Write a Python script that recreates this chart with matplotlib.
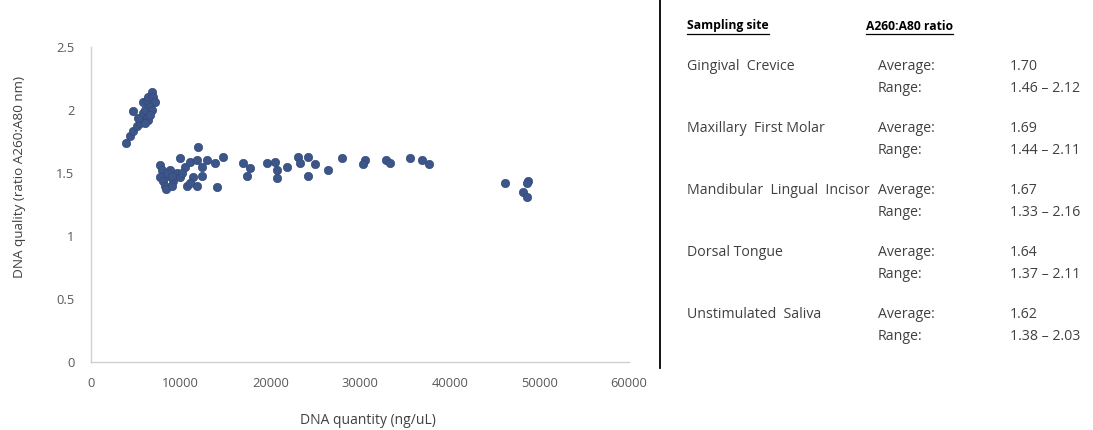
import matplotlib
matplotlib.use("Agg")
import matplotlib.pyplot as plt
from matplotlib.lines import Line2D

# DNA quantity (ng/uL) and quality (A260:A280)
quantity = [3900, 4350, 4680, 4680, 5130, 5460, 5690, 5800, 6020, 5800,
            6240, 6360, 6800, 6910, 7140, 6580, 6240, 6800, 6360, 5990,
            5240, 6580,
            7690, 7920, 7690, 8030, 8250, 8360, 8590, 8810, 9140, 9590,
            9930, 9930, 10480, 10710, 11040, 11380, 11820, 11930, 11820, 12380,
            12380, 12940, 13830, 14050, 14720, 8500, 9000, 10100, 11000, 9000,
            16950, 17400, 17730, 19630, 20520, 20740, 20740, 21860, 23080, 23310,
            24200, 24980, 24200, 26430, 27990, 30560, 30330, 32900, 33340, 35580,
            36910, 37690, 46170, 48730, 48620, 48180, 48620]
quality = [1.74, 1.79, 1.83, 1.99, 1.87, 1.90, 1.94, 1.98, 2.00, 2.06,
           2.08, 2.10, 2.14, 2.10, 2.06, 2.02, 1.94, 2.00, 1.92, 1.90,
           1.94, 1.96,
           1.56, 1.52, 1.47, 1.44, 1.40, 1.37, 1.48, 1.52, 1.44, 1.50,
           1.62, 1.47, 1.55, 1.40, 1.59, 1.47, 1.40, 1.71, 1.60, 1.55,
           1.48, 1.60, 1.58, 1.39, 1.63, 1.50, 1.48, 1.50, 1.42, 1.40,
           1.58, 1.48, 1.54, 1.58, 1.59, 1.52, 1.46, 1.55, 1.63, 1.58,
           1.63, 1.57, 1.48, 1.52, 1.62, 1.60, 1.57, 1.60, 1.58, 1.62,
           1.60, 1.57, 1.42, 1.44, 1.42, 1.35, 1.31]

x_ticks = [0, 10000, 20000, 30000, 40000, 50000, 60000]
y_ticks = [0, 0.5, 1, 1.5, 2, 2.5]

sites = ["Gingival  Crevice", "Maxillary  First Molar", "Mandibular  Lingual  Incisor",
         "Dorsal Tongue", "Unstimulated  Saliva"]
averages = ["1.70", "1.69", "1.67", "1.64", "1.62"]
ranges = ["1.46 \u2013 2.12", "1.44 \u2013 2.11", "1.33 \u2013 2.16",
          "1.37 \u2013 2.11", "1.38 \u2013 2.03"]

plt.rcParams['font.family'] = ['Open Sans', 'DejaVu Sans']

W, H = 1093, 430
fig = plt.figure(figsize=(W / 100, H / 100), dpi=100)
ax = fig.add_axes([91 / W, 1 - 362 / H, (629 - 91) / W, (362 - 47) / H])

ax.scatter(quantity, quality, s=36, color='#3d5689', edgecolors='#34497a',
           linewidths=0.5, zorder=3)

ax.set_xlim(0, 60000)
ax.set_ylim(0, 2.5)
ax.set_xticks(x_ticks)
ax.set_yticks(y_ticks)
ax.set_yticklabels(["0", "0.5", "1", "1.5", "2", "2.5"])
ax.tick_params(length=0, labelsize=9.3, colors='#595959')
ax.tick_params(axis='y', pad=12)
ax.tick_params(axis='x', pad=11)
for s in ['top', 'right']:
    ax.spines[s].set_visible(False)
for s in ['left', 'bottom']:
    ax.spines[s].set_color('#d0d0d0')
    ax.spines[s].set_linewidth(1.0)

fig.text(368 / W, 1 - 420 / H, "DNA quantity (ng/uL)", ha='center', va='center',
         fontsize=10, color='#404040')
fig.text(20 / W, 1 - 177 / H, "DNA quality (ratio A260:A80 nm)", ha='center',
         va='center', rotation=90, fontsize=9.7, color='#404040')

# vertical divider
fig.add_artist(Line2D([660 / W, 660 / W], [1 - 368 / H, 1.0], color='black', lw=1.3))

# right side table
renderer = fig.canvas.get_renderer()
heads = [(687, "Sampling site"), (866, "A260:A80 ratio")]
for hx, label in heads:
    t = fig.text(hx / W, 1 - 26 / H, label, ha='left', va='center', fontsize=8.7,
                 fontweight='bold', color='black')
    bb = t.get_window_extent(renderer)
    fig.add_artist(Line2D([bb.x0 / W, bb.x1 / W], [1 - 34 / H, 1 - 34 / H],
                          color='black', lw=0.9))

txt = '#404040'
for i in range(len(sites)):
    yy = 67 + i * 62
    fig.text(687 / W, 1 - yy / H, sites[i], ha='left', va='center', fontsize=10.2, color=txt)
    fig.text(878 / W, 1 - yy / H, "Average:", ha='left', va='center', fontsize=10.2, color=txt)
    fig.text(1010 / W, 1 - yy / H, averages[i], ha='left', va='center', fontsize=10.2, color=txt)
    fig.text(878 / W, 1 - (yy + 21) / H, "Range:", ha='left', va='center', fontsize=10.2, color=txt)
    fig.text(1010 / W, 1 - (yy + 21) / H, ranges[i], ha='left', va='center', fontsize=10.2, color=txt)

fig.savefig("out.png", dpi=100)
